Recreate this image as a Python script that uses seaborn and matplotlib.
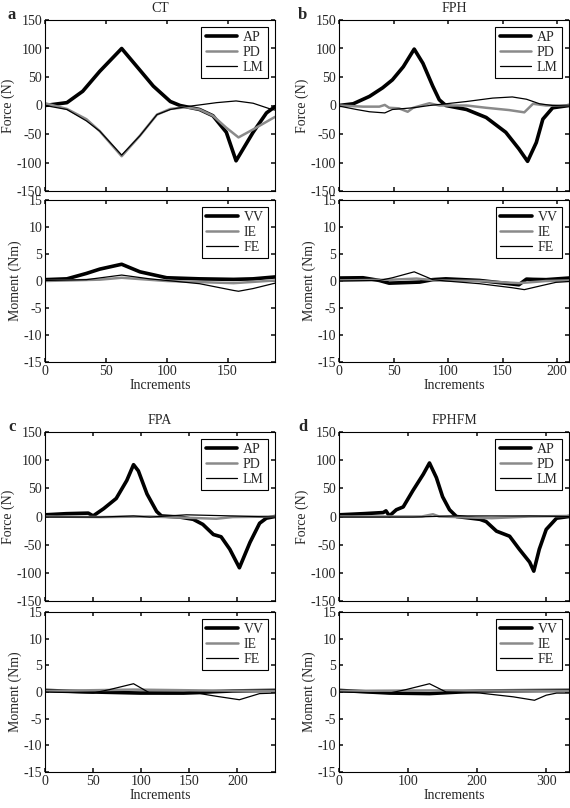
import matplotlib
matplotlib.use("Agg")
import matplotlib.pyplot as plt
import seaborn as sns

# ---------- DATA ----------
# a: CT
CT_AP_X = [0, 18, 31, 45, 63, 78, 89, 103, 111, 127, 138, 149, 157, 171, 182, 189]
CT_AP_Y = [0, 5, 25, 60, 100, 62, 34, 7, 0, -7, -18, -47, -97, -47, -13, -2]
CT_PD_X = [0, 18, 34, 45, 63, 78, 92, 103, 116, 127, 138, 149, 159, 171, 189]
CT_PD_Y = [4, -6, -24, -45, -89, -53, -16, -6, -3, -7, -18, -39, -56, -42, -20]
CT_LM_X = [0, 18, 34, 45, 63, 78, 92, 103, 116, 127, 141, 157, 171, 185, 189]
CT_LM_Y = [0, -7, -27, -45, -87, -53, -16, -7, -2, 1, 5, 8, 4, -6, -8]
CT_VV_X = [0, 18, 34, 45, 63, 78, 100, 127, 155, 171, 189]
CT_VV_Y = [0.25, 0.4, 1.4, 2.2, 3.1, 1.7, 0.6, 0.4, 0.3, 0.4, 0.75]
CT_IE_X = [0, 45, 63, 100, 127, 155, 189]
CT_IE_Y = [0, 0.25, 0.6, 0, -0.2, -0.4, 0.1]
CT_FE_X = [0, 34, 63, 86, 100, 127, 155, 159, 171, 189]
CT_FE_Y = [0.1, 0.25, 1.1, 0.4, 0.1, -0.5, -1.75, -1.9, -1.4, -0.4]

# b: FPH
FPH_AP_X = [0, 13, 28, 40, 49, 59, 69, 77, 86, 92, 98, 117, 135, 153, 165, 173, 181, 187, 196, 211]
FPH_AP_Y = [0, 3, 16, 31, 45, 68, 99, 74, 34, 10, 0, -7, -21, -47, -76, -98, -65, -24, -4, 0]
FPH_PD_X = [0, 22, 37, 42, 46, 55, 63, 68, 83, 92, 117, 135, 156, 170, 178, 190, 211]
FPH_PD_Y = [0, -2, -2, 1, -4, -5, -11, -4, 4, 0, 0, -4, -8, -12, 3, 0, 0]
FPH_LM_X = [0, 16, 28, 42, 49, 68, 83, 98, 117, 129, 141, 159, 172, 184, 196, 211]
FPH_LM_Y = [-1, -7, -11, -13, -7, -4, 0, 3, 7, 10, 13, 15, 11, 3, 0, -1]
FPH_VV_X = [0, 22, 37, 46, 74, 86, 98, 129, 165, 172, 178, 190, 211]
FPH_VV_Y = [0.55, 0.6, 0.1, -0.4, -0.2, 0.25, 0.4, 0.1, -0.7, 0.35, 0.3, 0.25, 0.55]
FPH_IE_X = [0, 49, 71, 90, 129, 165, 190, 211]
FPH_IE_Y = [0.1, 0.25, 0.45, 0.1, 0, -0.4, 0, 0.1]
FPH_FE_X = [0, 37, 49, 69, 86, 98, 129, 159, 170, 187, 199, 211]
FPH_FE_Y = [0, 0.1, 0.6, 1.7, 0.25, 0, -0.5, -1.25, -1.6, -0.8, -0.25, -0.1]

# c: FPA
FPA_AP_X = [0, 22, 45, 50, 61, 74, 85, 92, 97, 106, 116, 121, 140, 154, 164, 175, 183, 192, 202, 213, 223, 230, 239]
FPA_AP_Y = [3, 5, 6, 1, 14, 32, 64, 92, 81, 40, 9, 1, -1, -5, -14, -32, -36, -58, -91, -46, -12, -3, 0]
FPA_PD_X = [0, 57, 109, 178, 195, 239]
FPA_PD_Y = [0, -1, 0, -4, -1, 0]
FPA_LM_X = [0, 57, 92, 109, 147, 195, 239]
FPA_LM_Y = [-1, -1, 1, -1, 3, 1, -1]
FPA_VV_X = [0, 50, 99, 144, 195, 239]
FPA_VV_Y = [0.3, 0, -0.2, -0.2, 0.2, 0.3]
FPA_IE_X = [0, 92, 161, 239]
FPA_IE_Y = [0.2, 0.45, 0.3, 0.2]
FPA_FE_X = [0, 50, 67, 92, 109, 126, 161, 178, 202, 223, 239]
FPA_FE_Y = [0, -0.2, 0.45, 1.55, -0.2, -0.3, -0.3, -0.8, -1.45, -0.3, -0.2]

# d: FPHFM
FPHFM_AP_X = [0, 35, 64, 68, 73, 83, 93, 107, 122, 131, 141, 150, 160, 170, 204, 213, 228, 247,
              261, 276, 282, 290, 300, 315, 333]
FPHFM_AP_Y = [3, 5, 7, 10, 1, 12, 17, 46, 75, 95, 69, 35, 12, 0, -5, -9, -26, -35,
              -58, -81, -97, -58, -23, -3, 0]
FPHFM_PD_X = [0, 120, 136, 145, 221, 276, 333]
FPHFM_PD_Y = [0, 0, 4, 0, -3, 0, 1]
FPHFM_LM_X = [0, 107, 165, 221, 276, 333]
FPHFM_LM_Y = [-1, -1, 1, 1, 1, 0]
FPHFM_VV_X = [0, 73, 131, 204, 333]
FPHFM_VV_Y = [0.3, -0.2, -0.3, 0.2, 0.3]
FPHFM_IE_X = [0, 131, 204, 333]
FPHFM_IE_Y = [0.2, 0.3, 0.3, 0.2]
FPHFM_FE_X = [0, 73, 97, 131, 155, 204, 252, 283, 300, 315, 333]
FPHFM_FE_Y = [0, -0.2, 0.45, 1.55, 0, -0.2, -0.9, -1.55, -0.6, -0.2, -0.2]

TITLES = ["CT", "FPH", "FPA", "FPHFM"]
LETTERS = ["a", "b", "c", "d"]
XMAX = [189, 211, 239, 333]
XSTEP = [50, 50, 50, 100]

# ---------- STYLE ----------
sns.set_theme(style="ticks")
plt.rcParams['font.family'] = ['Liberation Serif', 'DejaVu Serif']
plt.rcParams.update({
    "font.size": 10, "axes.labelsize": 10, "axes.titlesize": 10,
    "xtick.labelsize": 10, "ytick.labelsize": 10, "legend.fontsize": 10,
    "xtick.direction": "in", "ytick.direction": "in",
    "xtick.top": True, "ytick.right": True,
    "xtick.major.size": 3, "ytick.major.size": 3,
    "xtick.major.pad": 2, "ytick.major.pad": 2,
    "axes.edgecolor": "black", "axes.linewidth": 0.8,
    "axes.unicode_minus": False,
})

GRAY = "#8a8a8a"
STYLE = {"AP": ("black", 2.6), "PD": (GRAY, 1.8), "LM": ("black", 0.9),
         "VV": ("black", 2.6), "IE": (GRAY, 1.8), "FE": ("black", 0.9)}


def draw(ax, series):
    for name, x, y in series:
        color, lw = STYLE[name]
        sns.lineplot(x=x, y=y, ax=ax, color=color, linewidth=lw, label=name, sort=False)
    leg = ax.legend(loc="upper right", fancybox=False, framealpha=1, edgecolor="black",
                    handlelength=2.3, labelspacing=0.15, borderpad=0.3,
                    handletextpad=0.4, borderaxespad=0.5)
    leg.get_frame().set_linewidth(0.8)


fig = plt.figure(figsize=(5.7, 8.08), dpi=100)
W, H = 570, 808
lefts = [45, 339, 45, 339]
letter_x = [8, 298, 8, 298]
force_tb = [(20, 191), (20, 191), (432, 601), (432, 601)]
moment_tb = [(200, 362), (200, 362), (612, 772), (612, 772)]

panels = [
    ([("AP", CT_AP_X, CT_AP_Y), ("PD", CT_PD_X, CT_PD_Y), ("LM", CT_LM_X, CT_LM_Y)],
     [("VV", CT_VV_X, CT_VV_Y), ("IE", CT_IE_X, CT_IE_Y), ("FE", CT_FE_X, CT_FE_Y)]),
    ([("AP", FPH_AP_X, FPH_AP_Y), ("PD", FPH_PD_X, FPH_PD_Y), ("LM", FPH_LM_X, FPH_LM_Y)],
     [("VV", FPH_VV_X, FPH_VV_Y), ("IE", FPH_IE_X, FPH_IE_Y), ("FE", FPH_FE_X, FPH_FE_Y)]),
    ([("AP", FPA_AP_X, FPA_AP_Y), ("PD", FPA_PD_X, FPA_PD_Y), ("LM", FPA_LM_X, FPA_LM_Y)],
     [("VV", FPA_VV_X, FPA_VV_Y), ("IE", FPA_IE_X, FPA_IE_Y), ("FE", FPA_FE_X, FPA_FE_Y)]),
    ([("AP", FPHFM_AP_X, FPHFM_AP_Y), ("PD", FPHFM_PD_X, FPHFM_PD_Y), ("LM", FPHFM_LM_X, FPHFM_LM_Y)],
     [("VV", FPHFM_VV_X, FPHFM_VV_Y), ("IE", FPHFM_IE_X, FPHFM_IE_Y), ("FE", FPHFM_FE_X, FPHFM_FE_Y)]),
]

for i, (force, moment) in enumerate(panels):
    l = lefts[i] / W
    w = 230 / W
    ft, fb = force_tb[i]
    mt, mb = moment_tb[i]
    ax_f = fig.add_axes([l, 1 - fb / H, w, (fb - ft) / H])
    ax_m = fig.add_axes([l, 1 - mb / H, w, (mb - mt) / H])

    draw(ax_f, force)
    draw(ax_m, moment)

    xticks = list(range(0, XMAX[i] + 1, XSTEP[i]))
    for ax in (ax_f, ax_m):
        ax.set_xlim(0, XMAX[i])
        ax.set_xticks(xticks)
    ax_f.set_ylim(-150, 150)
    ax_f.set_yticks(range(-150, 151, 50))
    ax_f.set_xticklabels([])
    ax_f.set_xlabel("")
    ax_f.set_ylabel("Force (N)", labelpad=1)
    ax_f.set_title(TITLES[i], pad=6)

    ax_m.set_ylim(-15, 15)
    ax_m.set_yticks(range(-15, 16, 5))
    ax_m.set_xlabel("Increments", labelpad=1)
    ax_m.set_ylabel("Moment (Nm)", labelpad=1)

    fig.text(letter_x[i] / W, 1 - (ft - 1) / H, LETTERS[i],
             fontsize=12, fontweight="bold", ha="left", va="baseline")

fig.savefig("out.png", dpi=100)
